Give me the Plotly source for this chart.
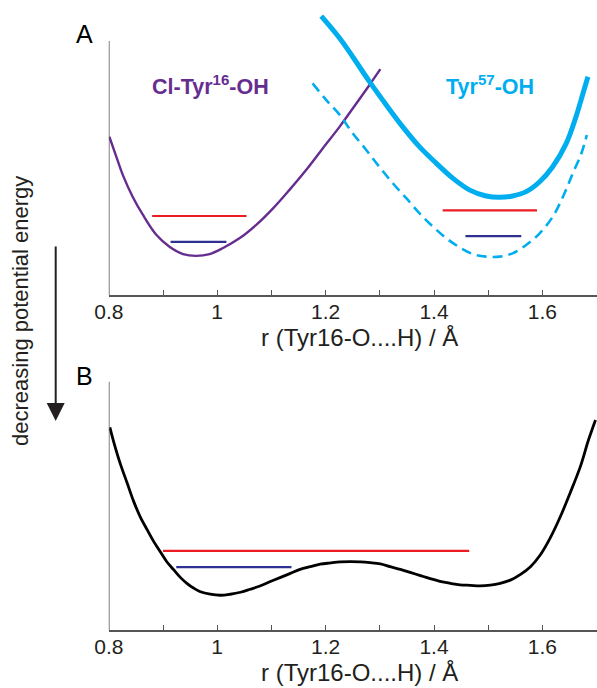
import plotly.graph_objects as go

# ---------------- data ----------------
# Panel A: Cl-Tyr16-OH potential well (purple)
r_cltyr16 = [0.801, 0.814, 0.826, 0.844, 0.863, 0.888, 0.912, 0.937, 0.961, 0.986,
             1.010, 1.041, 1.072, 1.103, 1.133, 1.164, 1.195, 1.226, 1.257, 1.281, 1.301]
e_cltyr16 = [6.23, 5.44, 4.72, 3.87, 3.15, 2.36, 1.90, 1.61, 1.54, 1.61,
             1.84, 2.23, 2.76, 3.41, 4.13, 4.92, 5.78, 6.63, 7.55, 8.27, 8.89]

# Panel A: Tyr57-OH well, upper curve (solid)
r_tyr57_upper = [1.192, 1.226, 1.250, 1.281, 1.312, 1.342, 1.373, 1.404, 1.435, 1.466,
                 1.496, 1.521, 1.545, 1.570, 1.595, 1.619, 1.644, 1.662, 1.675, 1.684]
e_tyr57_upper = [10.98, 10.11, 9.38, 8.40, 7.48, 6.63, 5.84, 5.19, 4.59, 4.13,
                 3.90, 3.85, 3.90, 4.07, 4.46, 5.05, 5.97, 7.02, 7.94, 8.59]

# Panel A: Tyr57-OH well, lowered curve (dashed)
r_tyr57_lower = [1.176, 1.201, 1.226, 1.250, 1.275, 1.299, 1.324, 1.349, 1.373, 1.398,
                 1.423, 1.447, 1.472, 1.496, 1.521, 1.545, 1.570, 1.595, 1.619, 1.638,
                 1.656, 1.672, 1.682]
e_tyr57_lower = [8.33, 7.68, 7.09, 6.37, 5.71, 5.05, 4.40, 3.81, 3.22, 2.69,
                 2.23, 1.88, 1.61, 1.51, 1.51, 1.64, 1.97, 2.43, 3.08, 3.87,
                 4.79, 5.58, 6.30]

# Panel A: energy levels  (r start, r end, energy)
a_red_levels = [(0.880, 1.054, 3.11), (1.416, 1.590, 3.33)]
a_blue_levels = [(0.914, 1.017, 2.09), (1.458, 1.561, 2.32)]

# Panel B: double-well potential (black)
r_double = [0.802, 0.809, 0.821, 0.834, 0.846, 0.858, 0.871, 0.883, 0.895, 0.907,
            0.920, 0.932, 0.944, 0.957, 0.969, 0.987, 1.006, 1.024, 1.043, 1.061,
            1.080, 1.098, 1.117, 1.135, 1.153, 1.172, 1.190, 1.209, 1.227, 1.246,
            1.264, 1.282, 1.301, 1.319, 1.338, 1.356, 1.375, 1.393, 1.411, 1.430,
            1.448, 1.467, 1.485, 1.504, 1.522, 1.541, 1.559, 1.578, 1.596, 1.614,
            1.633, 1.651, 1.670, 1.685, 1.698]
e_double = [8.16, 7.58, 6.71, 5.91, 5.17, 4.56, 4.03, 3.56, 3.15, 2.75,
            2.42, 2.12, 1.88, 1.68, 1.54, 1.44, 1.40, 1.44, 1.52, 1.64,
            1.78, 1.95, 2.12, 2.28, 2.44, 2.55, 2.65, 2.70, 2.74, 2.75,
            2.74, 2.71, 2.66, 2.55, 2.44, 2.32, 2.19, 2.07, 1.96, 1.88,
            1.82, 1.80, 1.78, 1.81, 1.88, 2.01, 2.23, 2.55, 3.02, 3.69,
            4.56, 5.51, 6.58, 7.65, 8.46]

# Panel B: energy levels
b_red_levels = [(0.900, 1.465, 3.19)]
b_blue_levels = [(0.9245, 1.137, 2.53)]

x_tick_vals = [0.8, 1.0, 1.2, 1.4, 1.6]
x_tick_text = ["0.8", "1", "1.2", "1.4", "1.6"]
x_minor_vals = [0.9, 1.1, 1.3, 1.5, 1.7]
x_title = "r (Tyr16-O....H) / Å"

# ---------------- styling ----------------
W, H = 597, 688
FONT = "Liberation Sans, Arial, Helvetica, sans-serif"
PURPLE = "#662d91"
CYAN = "#00aeef"
RED = "#ed1c24"
BLUE = "#2e3192"
INK = "#231f20"
AXIS = "#555555"

fig = go.Figure()

# panel A curves
fig.add_trace(go.Scatter(x=r_cltyr16, y=e_cltyr16, mode="lines", line_shape="spline",
                         line=dict(color=PURPLE, width=2.4), xaxis="x", yaxis="y"))
fig.add_trace(go.Scatter(x=r_tyr57_lower, y=e_tyr57_lower, mode="lines", line_shape="spline",
                         line=dict(color=CYAN, width=2.6, dash="10px,6px"), xaxis="x", yaxis="y"))
fig.add_trace(go.Scatter(x=r_tyr57_upper, y=e_tyr57_upper, mode="lines", line_shape="spline",
                         line=dict(color=CYAN, width=5), xaxis="x", yaxis="y"))
for levels, col in ((a_red_levels, RED), (a_blue_levels, BLUE)):
    for r0, r1, e in levels:
        fig.add_trace(go.Scatter(x=[r0, r1], y=[e, e], mode="lines",
                                 line=dict(color=col, width=2.2), xaxis="x", yaxis="y"))

# panel B curve
fig.add_trace(go.Scatter(x=r_double, y=e_double, mode="lines", line_shape="spline",
                         line=dict(color="#000000", width=2.8), xaxis="x2", yaxis="y2"))
for levels, col in ((b_red_levels, RED), (b_blue_levels, BLUE)):
    for r0, r1, e in levels:
        fig.add_trace(go.Scatter(x=[r0, r1], y=[e, e], mode="lines",
                                 line=dict(color=col, width=2.2), xaxis="x2", yaxis="y2"))

# geometry (pixels from the top-left corner of the page)
x_left_px = 108.8
px_per_r = 542.0
x_max = 0.8 + (W - x_left_px) / px_per_r

a_bottom, a_top, a_unit = 295.0, 10.0, 25.4
b_bottom, b_top, b_unit = 630.0, 370.0, 24.83


def xaxis_style(anchor):
    return dict(
        domain=[x_left_px / W, 1.0], range=[0.8, x_max], anchor=anchor,
        automargin=False,
        showline=True, linecolor=AXIS, linewidth=1.5,
        ticks="inside", ticklen=5, tickwidth=1, tickcolor=AXIS,
        tickvals=x_tick_vals, ticktext=x_tick_text, ticklabelstandoff=-3,
        tickfont=dict(family=FONT, size=21, color=INK),
        minor=dict(tickvals=x_minor_vals, ticks="inside",
                   ticklen=5, tickwidth=1, tickcolor=AXIS),
        showgrid=False, zeroline=False, fixedrange=True,
    )


def yaxis_style(anchor, bottom, top, unit):
    return dict(
        domain=[1 - bottom / H, 1 - top / H], range=[0, (bottom - top) / unit],
        anchor=anchor, automargin=False,
        showline=False, showticklabels=False, ticks="",
        showgrid=False, zeroline=False, fixedrange=True,
    )


fig.update_layout(
    width=W, height=H, autosize=False,
    margin=dict(l=0, r=0, t=0, b=0, pad=0),
    paper_bgcolor="white", plot_bgcolor="white",
    showlegend=False,
    font=dict(family=FONT, color=INK),
    xaxis=xaxis_style("y"),
    yaxis=yaxis_style("x", a_bottom, a_top, a_unit),
    xaxis2=xaxis_style("y2"),
    yaxis2=yaxis_style("x2", b_bottom, b_top, b_unit),
)

# left (energy) axis lines, drawn only up to the top of the energy scale
for xr, yr in (("x", "y"), ("x2", "y2")):
    fig.add_shape(type="line", xref=xr, yref=yr, x0=0.8, x1=0.8, y0=0, y1=10,
                  line=dict(color=AXIS, width=1.5))


def label(text, x_px, y_px, size, color, angle=0):
    return dict(text=text, xref="paper", yref="paper", x=x_px / W, y=1 - y_px / H,
                showarrow=False, textangle=angle, xanchor="center", yanchor="middle",
                font=dict(size=size, color=color, family=FONT))


ann = []
# axis titles
ann.append(label(x_title, 360, 337, 24, INK))
ann.append(label(x_title, 360, 672, 24, INK))
# panel letters
ann.append(label("A", 85, 34, 25, "#000000"))
ann.append(label("B", 85, 376, 25, "#000000"))
# curve labels
ann.append(label("<b>Cl-Tyr<sup>16</sup>-OH</b>", 210, 85, 21.5, PURPLE))
ann.append(label("<b>Tyr<sup>57</sup>-OH</b>", 490, 85, 21.5, CYAN))
# energy-direction label and arrow
ann.append(label("decreasing potential energy", 20, 311, 22, INK, angle=-90))
ann.append(dict(text="", xref="paper", yref="paper", x=55.7 / W, y=1 - 421 / H,
                axref="pixel", ayref="pixel", ax=0, ay=-(421 - 245),
                showarrow=True, arrowhead=2, arrowsize=1.8, arrowwidth=2,
                arrowcolor=INK, standoff=0, startstandoff=0))

fig.update_layout(annotations=ann)

fig.write_html("out.html")
